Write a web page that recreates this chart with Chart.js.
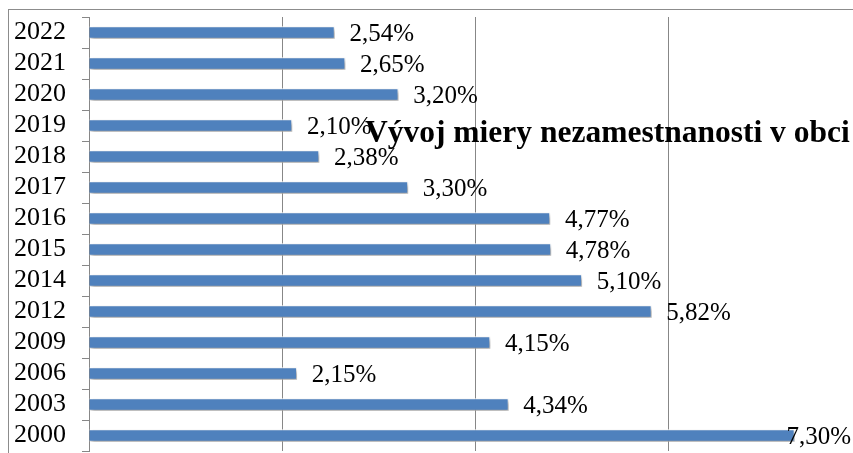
<!DOCTYPE html>
<html>
<head>
<meta charset="utf-8">
<script src="https://cdn.jsdelivr.net/npm/chart.js@4/dist/chart.umd.min.js"></script>
<style>
  html, body { margin: 0; padding: 0; background: #fff; overflow: hidden; width: 853px; height: 453px; }
  #frame { position: absolute; left: 8px; top: 9px; width: 900px; height: 460px; border-left: 1px solid #8c8c8c; border-top: 1px solid #8c8c8c; }
  #wrap { position: absolute; left: 0; top: 0; width: 880px; height: 453px; }
</style>
</head>
<body>
<div id="frame"></div>
<div id="wrap"><canvas id="c" width="880" height="453"></canvas></div>
<script>
const categories = ["2022", "2021", "2020", "2019", "2018", "2017", "2016", "2015", "2014", "2012", "2009", "2006", "2003", "2000"];
const rates = [2.54, 2.65, 3.20, 2.10, 2.38, 3.30, 4.77, 4.78, 5.10, 5.82, 4.15, 2.15, 4.34, 7.30];
const titleText = "Vývoj miery nezamestnanosti v obci";
const xTicks = [0, 2, 4, 6, 8];

const serif = "'Liberation Serif', 'Times New Roman', serif";

const shadowPlugin = {
  id: 'barShadow',
  beforeDatasetDraw(chart) {
    const ctx = chart.ctx;
    ctx.save();
    ctx.shadowColor = 'rgba(0,0,0,0.38)';
    ctx.shadowBlur = 4;
    ctx.shadowOffsetX = 2;
    ctx.shadowOffsetY = 3;
  },
  afterDatasetDraw(chart) {
    chart.ctx.restore();
  }
};

const labelPlugin = {
  id: 'valueLabels',
  afterDatasetsDraw(chart) {
    const ctx = chart.ctx;
    const meta = chart.getDatasetMeta(0);
    ctx.save();
    ctx.font = "25px " + serif;
    ctx.fillStyle = '#000';
    ctx.textBaseline = 'middle';
    ctx.textAlign = 'left';
    meta.data.forEach((bar, i) => {
      const txt = rates[i].toFixed(2).replace('.', ',') + '%';
      const w = ctx.measureText(txt).width;
      let x = bar.x + 15;
      if (x + w > 851) x = 851 - w;
      ctx.fillText(txt, x, bar.y + 2);
    });
    ctx.restore();
  }
};

const titlePlugin = {
  id: 'overlayTitle',
  afterDraw(chart) {
    const ctx = chart.ctx;
    ctx.save();
    ctx.font = "bold 31.5px " + serif;
    ctx.fillStyle = '#000';
    ctx.textBaseline = 'alphabetic';
    ctx.textAlign = 'left';
    ctx.fillText(titleText, 365, 142);
    ctx.restore();
  }
};

function zeroPad(s) { s.paddingTop = 0; s.paddingBottom = 0; s.paddingLeft = 0; s.paddingRight = 0; }

new Chart(document.getElementById('c'), {
  type: 'bar',
  data: {
    labels: categories,
    datasets: [{
      data: rates,
      backgroundColor: '#4F81BD',
      borderColor: '#ffffff',
      borderWidth: 1,
      barThickness: 12
    }]
  },
  options: {
    indexAxis: 'y',
    responsive: false,
    animation: false,
    events: [],
    layout: { padding: { left: 0, right: 18, top: 17, bottom: 2 } },
    plugins: { legend: { display: false }, tooltip: { enabled: false }, title: { display: false } },
    scales: {
      x: {
        min: 0, max: 8,
        afterBuildTicks(s) { s.ticks = xTicks.map(v => ({ value: v })); },
        afterFit(s) { s.height = 0; zeroPad(s); },
        ticks: { display: false },
        border: { display: false },
        grid: { color: '#878787', lineWidth: 1, drawTicks: false }
      },
      y: {
        afterFit(s) { s.width = 89; zeroPad(s); },
        ticks: { color: '#000', font: { family: serif, size: 26 }, padding: 16, autoSkip: false },
        border: { display: true, color: '#878787', width: 1 },
        grid: { offset: true, drawOnChartArea: false, drawTicks: true, tickLength: 7, color: '#878787' }
      }
    }
  },
  plugins: [shadowPlugin, labelPlugin, titlePlugin]
});
</script>
</body>
</html>
